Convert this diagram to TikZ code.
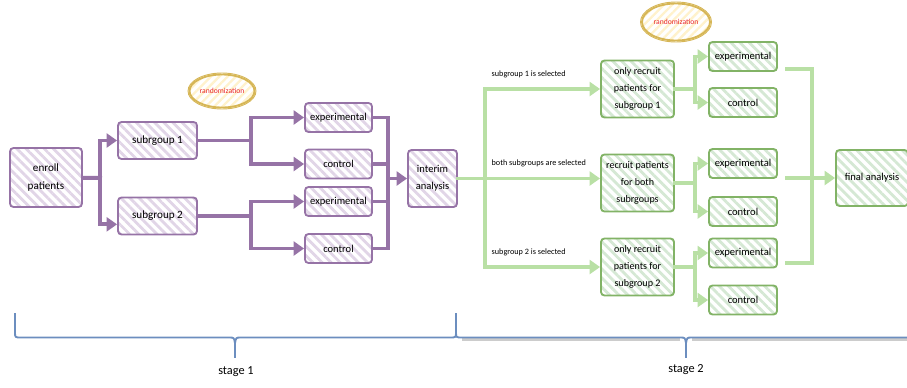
\documentclass[tikz,border=0pt]{standalone}
\usepackage{fontspec}
\setmainfont{Carlito}
\usetikzlibrary{arrows.meta,patterns.meta,shapes.geometric}

\definecolor{purpleline}{HTML}{9673A6}
\definecolor{purplefill}{HTML}{E1D5E7}
\definecolor{greenline}{HTML}{82B366}
\definecolor{greenfill}{HTML}{D5E8D4}
\definecolor{greenlink}{HTML}{B9E0A5}
\definecolor{goldline}{HTML}{D6B656}
\definecolor{goldfill}{HTML}{FFF2CC}
\definecolor{bracecol}{HTML}{6C8EBF}
\definecolor{randtext}{HTML}{E8262A}

\begin{document}
\begin{tikzpicture}[x=0.03cm,y=-0.03cm,
    box/.style={rounded corners=3pt, line width=1.6pt, align=center, inner sep=1pt,
        font=\fontsize{9}{14.5}\selectfont},
    pbox/.style={box, draw=purpleline,
        pattern={Lines[angle=-45,distance=5.5pt,line width=2.4pt]}, pattern color=purplefill},
    gbox/.style={box, draw=greenline,
        pattern={Lines[angle=-45,distance=5.5pt,line width=2.4pt]}, pattern color=greenfill},
    bigtext/.style={font=\fontsize{9.5}{16}\selectfont},
    smallbox/.style={minimum width=2.04cm, minimum height=0.87cm},
    bigbox/.style={minimum width=2.19cm, minimum height=1.71cm, font=\fontsize{8.6}{14.5}\selectfont},
    plink/.style={draw=purpleline, line width=3.4pt, line cap=rect},
    parr/.style={plink, -{Triangle[length=9pt,width=12pt]}},
    glink/.style={draw=greenlink, line width=3.4pt, line cap=rect},
    garr/.style={glink, -{Triangle[length=9pt,width=12pt]}},
    sel/.style={font=\fontsize{7}{8}\selectfont, anchor=south west, inner sep=1pt,
        xshift=3pt, yshift=7pt},
    rand/.style={ellipse, draw=goldline, line width=1.6pt, text=randtext,
        pattern={Lines[angle=45,distance=5pt,line width=2pt]}, pattern color=goldfill,
        font=\fontsize{6.5}{7}\selectfont, inner sep=0pt},
    brace/.style={draw=bracecol, line width=1.6pt, line join=round},
    stagelbl/.style={font=\fontsize{10.5}{12}\selectfont},
]
\useasboundingbox (0,0) rectangle (907,387);

% stage 1
\node[pbox, bigtext, minimum width=2.16cm, minimum height=1.77cm] (enroll) at (46,177.5) {enroll\\patients};
\node[pbox, bigtext, minimum width=2.37cm, minimum height=1.11cm] (sg1) at (157.5,140.5) {subrgoup 1};
\node[pbox, bigtext, minimum width=2.37cm, minimum height=1.11cm] (sg2) at (157.5,216) {subgroup 2};
\node[pbox, minimum width=2.01cm, minimum height=0.87cm] (pexp1) at (338.5,117.5) {experimental};
\node[pbox, minimum width=2.01cm, minimum height=0.87cm] (pctl1) at (338.5,164) {control};
\node[pbox, minimum width=2.01cm, minimum height=0.87cm] (pexp2) at (338.5,201.5) {experimental};
\node[pbox, minimum width=2.01cm, minimum height=0.87cm] (pctl2) at (338.5,248.5) {control};
\node[pbox, minimum width=1.47cm, minimum height=1.71cm] (interim) at (432.5,178.5) {interim\\analysis};
\node[rand, minimum width=1.95cm, minimum height=0.99cm] (rand1) at (222,91) {randomization};
\draw[goldline, line width=0.8pt] (rand1.center) ellipse [x radius=34, y radius=18];

\coordinate (j0) at (100,178);
\draw[plink] (enroll) -- (j0);
\draw[parr] (j0) |- (sg1);
\draw[parr] (j0) |- ([yshift=-0.25cm]sg2.west);
\foreach \i in {1,2}{
    \coordinate (j\i) at ([xshift=1.59cm]sg\i.east);
    \draw[plink] (sg\i) -- (j\i);
    \draw[parr] (j\i) |- (pexp\i);
    \draw[parr] (j\i) |- (pctl\i);
}
\coordinate (m) at (388,178.5);
\draw[plink] (pexp1) -| (m);
\draw[plink] (pctl2) -| (m);
\draw[plink] (pctl1) -- (pctl1 -| m);
\draw[plink] (pexp2) -- (pexp2 -| m);
\draw[parr] (m) -- (interim);

% stage 2
\node[gbox, bigbox] (only1) at (637.5,89) {only recruit\\patients for\\subgroup 1};
\node[gbox, bigbox] (both) at (637.5,183) {recruit patients\\for both\\subrgoups};
\node[gbox, bigbox] (only2) at (637.5,267) {only recruit\\patients for\\subgroup 2};
\foreach \i/\y in {1/56.5,2/163.5,3/253}
    \node[gbox, smallbox] (gexp\i) at (743,\y) {experimental};
\foreach \i/\y in {1/102.5,2/211.5,3/300}
    \node[gbox, smallbox] (gctl\i) at (743,\y) {control};
\node[gbox, minimum width=2.16cm, minimum height=1.68cm] (final) at (872,178) {final analysis};
\node[rand, minimum width=2.04cm, minimum height=1.11cm] (rand2) at (676,22) {randomization};
\draw[goldline, line width=0.8pt] (rand2.center) ellipse [x radius=35.5, y radius=20];

\coordinate (g) at (485,178.5);
\draw[glink] (interim) -- (g);
\draw[garr] (g) |- node[pos=0.5, sel] {subgroup 1 is selected} (only1);
\draw[garr] (g) -- node[pos=0, sel] {both subgroups are selected} (g -| both.west);
\draw[garr] (g) |- node[pos=0.5, sel] {subgroup 2 is selected} (only2);
\foreach \i/\n in {1/only1,2/both,3/only2}{
    \coordinate (s\i) at ([xshift=0.6cm]\n.east);
    \draw[glink] (\n) -- (s\i);
    \draw[garr] (s\i) |- (gexp\i);
    \draw[garr] (s\i) |- (gctl\i);
}
\coordinate (t1) at (787,69);
\coordinate (t2) at (787,178);
\coordinate (t3) at (787,263);
\coordinate (mg) at (812,178);
\draw[glink] (t1) -| (mg);
\draw[glink] (t3) -| (mg);
\draw[garr] (t2) -- (final);

% braces
\node[stagelbl] (stage1) at (236,372) {stage 1};
\node[stagelbl] (stage2) at (686,370) {stage 2};
\draw[black!20, line width=2.6pt] (462,339.8) -- (680,339.8) (692,339.8) -- (915,339.8);
\draw[brace] (15,313) -- (15,332) .. controls (15,337.5) .. (21,337.5) -- (229,337.5)
    .. controls (234,337.5) .. (235,343) .. controls (236,337.5) .. (241,337.5)
    -- (450,337.5) .. controls (456,337.5) .. (456,332) -- (456,313);
\draw[brace] (235,343) -- (235,358);
\draw[brace] (456,332) .. controls (456,337.5) .. (462,337.5) -- (680,337.5)
    .. controls (685,337.5) .. (686,343) .. controls (687,337.5) .. (692,337.5) -- (915,337.5);
\draw[brace] (686,343) -- (686,358);
\end{tikzpicture}
\end{document}
